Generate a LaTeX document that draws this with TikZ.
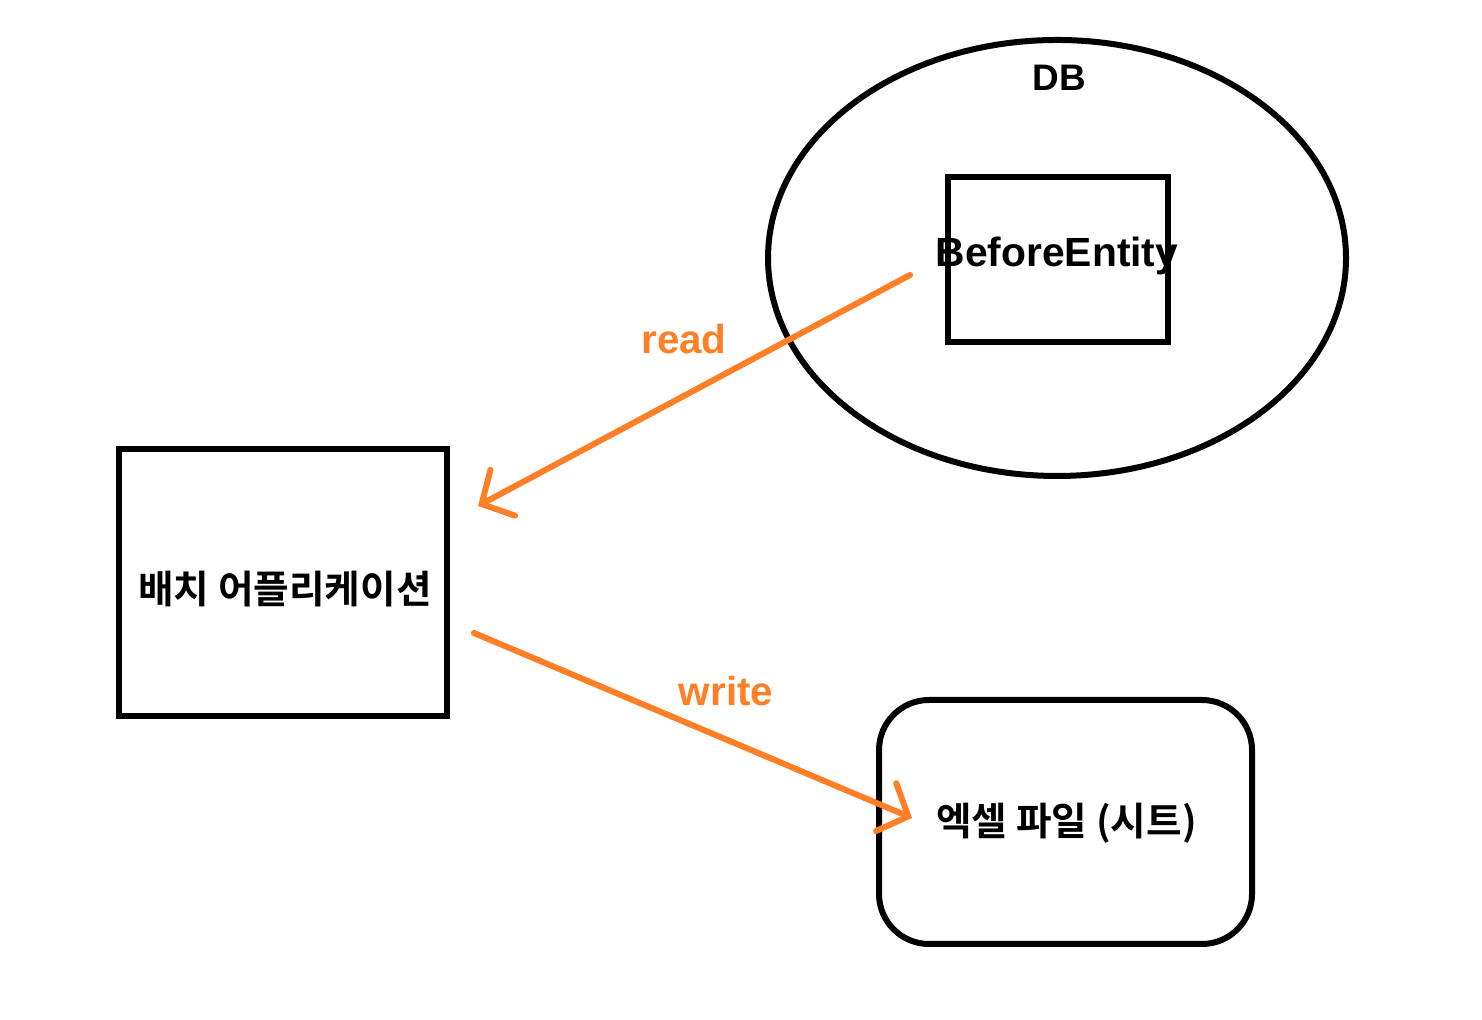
\documentclass[tikz,border=0pt]{standalone}
\usepackage{fontspec}
\setmainfont{Liberation Sans}
\newfontfamily\krFont{Noto Sans CJK KR}[BoldFont={Noto Sans CJK KR Bold}]
\usepackage{tikz}
\usetikzlibrary{shapes.geometric}
\usetikzlibrary{arrows.meta}
\definecolor{paintOrange}{HTML}{FF7F27}
\tikzset{
    boxLine/.style={draw=black,line width=0.06cm,inner sep=0pt},
    orangeArrow/.style={draw=paintOrange,line width=0.06cm,line cap=round,-{Straight Barb[length=0.24cm,width=0.52cm,line cap=round]}},
    orangeLabel/.style={text=paintOrange,font=\fontsize{11.5}{12}\selectfont\bfseries},
    krLabel/.style={font=\krFont\bfseries\fontsize{11}{13}\selectfont}
}

\begin{document}
\begin{tikzpicture}
    \useasboundingbox (0,0) rectangle (14.82,10.20);
    \node[ellipse,draw=black,line width=0.06cm,minimum width=5.78cm,minimum height=4.36cm,inner sep=0pt] (dbEllipse) at (10.57,7.62) {};
    \node[font=\fontsize{10.5}{12}\selectfont\bfseries] (dbLabel) at (10.59,9.42) {DB};
    \node[boxLine,minimum width=2.20cm,minimum height=1.65cm] (entityBox) at (10.58,7.605) {};
    \node[font=\fontsize{11.6}{12}\selectfont\bfseries] (entityLabel) at (10.57,7.64) {BeforeEntity};
    \node[boxLine,minimum width=3.28cm,minimum height=2.67cm] (appBox) at (2.83,4.375) {};
    \node[krLabel] (appLabel) at (2.85,4.31) {배치 어플리케이션};
    \node[boxLine,rounded corners=0.5cm,minimum width=3.73cm,minimum height=2.44cm] (excelBox) at (10.655,1.98) {};
    \node[krLabel] (excelLabel) at (10.665,1.97) {엑셀 파일 (시트)};
    \coordinate (readStart) at (9.10,7.45);
    \coordinate (readEnd) at (4.78,5.14);
    \coordinate (writeStart) at (4.74,3.87);
    \coordinate (writeEnd) at (9.12,2.02);
    \draw[orangeArrow] (readStart) -- (readEnd);
    \draw[orangeArrow] (writeStart) -- (writeEnd);
    \node[orangeLabel] (readLabel) at (6.84,6.81) {read};
    \node[orangeLabel] (writeLabel) at (7.26,3.29) {write};
\end{tikzpicture}
\end{document}
